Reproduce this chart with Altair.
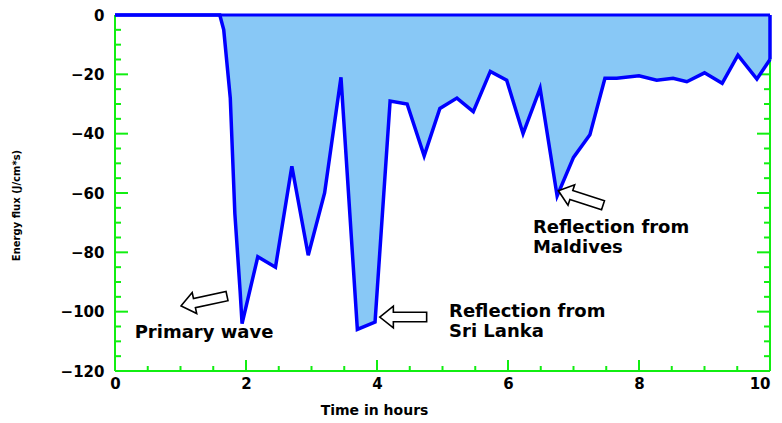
import altair as alt
import pandas as pd

# --- data ---
time_h = [0.0, 1.60, 1.66, 1.76, 1.83, 1.91, 1.94, 2.18, 2.45, 2.70, 2.95, 3.20,
          3.45, 3.70, 3.97, 4.20, 4.46, 4.72, 4.96, 5.22, 5.47, 5.73, 5.98, 6.23,
          6.49, 6.75, 7.00, 7.25, 7.48, 7.66, 8.00, 8.27, 8.52, 8.73, 9.00, 9.27,
          9.51, 9.80, 10.0]
flux = [0.0, 0.0, -5.0, -28.0, -67.0, -93.0, -104.0, -81.5, -85.0, -51.0, -81.0, -60.0,
        -21.0, -106.0, -103.5, -29.0, -30.0, -47.5, -31.5, -28.0, -32.6, -19.0, -22.0, -40.0,
        -24.7, -61.0, -48.0, -40.4, -21.3, -21.3, -20.5, -22.0, -21.3, -22.5, -19.5, -23.0,
        -13.5, -21.6, -15.0]

x_ticks_major = [0, 2, 4, 6, 8, 10]
x_ticks_minor = [0.5, 1, 1.5, 2.5, 3, 3.5, 4.5, 5, 5.5, 6.5, 7, 7.5, 8.5, 9, 9.5]
y_ticks_major = [0, -20, -40, -60, -80, -100, -120]
y_ticks_minor = [-5, -10, -15, -25, -30, -35, -45, -50, -55, -65, -70, -75,
                 -85, -90, -95, -105, -110, -115]

ann_text = ["Primary wave", "Reflection from", "Sri Lanka", "Reflection from", "Maldives"]
ann_x = [0.30, 5.10, 5.10, 6.38, 6.38]
ann_y = [-107.2, -100.1, -106.8, -71.8, -78.5]

arrow_x = [1.36, 4.40, 7.11]
arrow_y = [-96.4, -101.8, -61.7]
arrow_angle = [348, 0, 18]

W, H = 655, 356
GREEN = "#11ee11"
BLUE = "#0000ff"
FONT = "DejaVu Sans"

df = pd.DataFrame({"t": time_h, "f": flux})
xs = alt.Scale(domain=[0, 10], nice=False)
ys = alt.Scale(domain=[-120, 0], nice=False)

XA = alt.Axis(
    values=x_ticks_major, ticks=False, domain=False, grid=False,
    labelFont=FONT, labelFontWeight="bold", labelFontSize=15, labelColor="black",
    labelPadding=5, labelAlign=alt.expr("datum.value == 10 ? 'right' : 'center'"),
    title="Time in hours", titleFont=FONT, titleFontWeight="bold",
    titleFontSize=14, titleX=259, titleY=39, titleAlign="center",
    titleBaseline="middle", titleColor="black", labelFlush=False)
YA = alt.Axis(
    values=y_ticks_major, ticks=False, domain=False, grid=False,
    labelFont=FONT, labelFontWeight="bold", labelFontSize=15, labelColor="black",
    labelPadding=11, title="Energy flux (J/cm*s)", titleFont=FONT,
    titleFontWeight="bold", titleFontSize=10, titleX=-99, titleY=190,
    titleAlign="center", titleBaseline="middle", titleColor="black",
    labelFlush=False)


def X(field):
    return alt.X(field, scale=xs, axis=XA)


def Y(field):
    return alt.Y(field, scale=ys, axis=YA, stack=None)


frame_df = pd.DataFrame({"x0": [0, 0, 10], "x1": [0, 10, 10],
                         "y0": [0, -120, 0], "y1": [-120, -120, -120]})
frame = alt.Chart(frame_df).mark_rule(color=GREEN, strokeWidth=2).encode(
    x=X("x0:Q"), x2="x1:Q", y=Y("y0:Q"), y2="y1:Q")

ymaj = pd.DataFrame({"v": y_ticks_major})
ymin = pd.DataFrame({"v": y_ticks_minor})
xmaj = pd.DataFrame({"v": x_ticks_major})
xmin = pd.DataFrame({"v": x_ticks_minor})


def yticks(d, length, side, width):
    if side == "left":
        xa, xb = 0, length
    else:
        xa, xb = W - length, W
    return alt.Chart(d).mark_rule(color=GREEN, strokeWidth=width).encode(
        y=Y("v:Q"), x=alt.value(xa), x2=alt.value(xb))


def xticks(d, length, width):
    return alt.Chart(d).mark_rule(color=GREEN, strokeWidth=width).encode(
        x=X("v:Q"), y=alt.value(H), y2=alt.value(H - length))


ticks = [yticks(ymaj, 13, "left", 2), yticks(ymin, 6, "left", 2),
         yticks(ymaj, 13, "right", 2), yticks(ymin, 6, "right", 2),
         xticks(xmaj, 11, 2), xticks(xmin, 5, 2)]

area = alt.Chart(df).mark_area(color="#88c8f6", opacity=1).encode(
    x=X("t:Q"), y=Y("f:Q"))

top = alt.Chart(pd.DataFrame({"a": [0], "b": [10], "y": [0]})).mark_rule(
    color=BLUE, strokeWidth=3).encode(x=X("a:Q"), x2="b:Q", y=Y("y:Q"))

line = alt.Chart(df).mark_line(color=BLUE, strokeWidth=3.5).encode(
    x=X("t:Q"), y=Y("f:Q"))

edge = alt.Chart(pd.DataFrame({"t": [time_h[-1]], "f": [flux[-1]], "z": [0]})).mark_rule(
    color=BLUE, strokeWidth=3.5).encode(x=X("t:Q"), y=Y("f:Q"), y2="z:Q")

ARROW = "M -1 0 L -0.42 -0.46 L -0.42 -0.2 L 1 -0.2 L 1 0.2 L -0.42 0.2 L -0.42 0.46 Z"
arrows = alt.Chart(pd.DataFrame({"x": arrow_x, "y": arrow_y, "a": arrow_angle})).mark_point(
    shape=ARROW, size=2200, filled=True, fill="white", stroke="black",
    strokeWidth=1.6, opacity=1).encode(
    x=X("x:Q"), y=Y("y:Q"), angle=alt.Angle("a:Q", scale=None))

texts = alt.Chart(pd.DataFrame({"x": ann_x, "y": ann_y, "s": ann_text})).mark_text(
    align="left", baseline="middle", font=FONT, fontWeight="bold", fontSize=18,
    color="black").encode(x=X("x:Q"), y=Y("y:Q"), text="s:N")

chart = alt.layer(frame, *ticks, area, top, line, edge, arrows, texts).properties(
    width=W, height=H,
    autosize=alt.AutoSizeParams(type="none"),
    padding={"left": 107, "top": 7, "right": 4, "bottom": 50},
    background="white",
).configure_view(stroke=None)

chart.save("out.html", embed_options={"renderer": "svg", "actions": False})
